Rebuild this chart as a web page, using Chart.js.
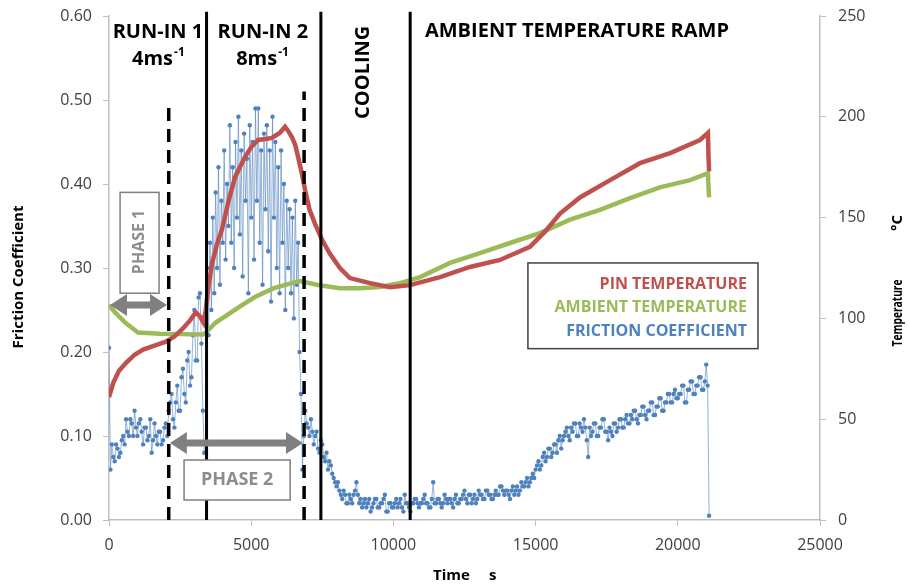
<!DOCTYPE html>
<html>
<head>
<script src="https://cdn.jsdelivr.net/npm/chart.js"></script>
<title>Friction and temperature</title>
<style>
  body { margin: 0; background: white; }
</style>
</head>
<body>
<canvas id="chart" width="909" height="585"></canvas>
<script>
// friction coefficient, logged every 50 s from t = 0 (one row = 1000 s)
const frictionStep = 50;
const frictionValue = [
  0.205, 0.06, 0.09, 0.075, 0.07, 0.09, 0.085, 0.075, 0.08, 0.095, 0.10, 0.09, 0.12, 0.105, 0.10, 0.12, 0.115, 0.10, 0.13, 0.11,
  0.10, 0.115, 0.12, 0.105, 0.09, 0.11, 0.11, 0.095, 0.10, 0.12, 0.08, 0.095, 0.115, 0.10, 0.09, 0.105, 0.105, 0.09, 0.095, 0.11,
  0.115, 0.10, 0.13, 0.14, 0.15, 0.12, 0.11, 0.14, 0.16, 0.13, 0.13, 0.17, 0.18, 0.15, 0.14, 0.19, 0.20, 0.16, 0.17, 0.22,
  0.25, 0.19, 0.19, 0.265, 0.27, 0.21, 0.13, 0.08, 0.08, 0.30, 0.22, 0.33, 0.25, 0.36, 0.27, 0.39, 0.30, 0.42, 0.28, 0.38,
  0.33, 0.44, 0.31, 0.40, 0.35, 0.47, 0.33, 0.42, 0.30, 0.45, 0.36, 0.48, 0.34, 0.44, 0.29, 0.46, 0.38, 0.43, 0.27, 0.47,
  0.36, 0.45, 0.31, 0.49, 0.38, 0.49, 0.33, 0.44, 0.28, 0.46, 0.37, 0.47, 0.32, 0.44, 0.26, 0.48, 0.36, 0.45, 0.30, 0.42,
  0.27, 0.44, 0.33, 0.40, 0.25, 0.38, 0.30, 0.37, 0.27, 0.36, 0.24, 0.38, 0.28, 0.33, 0.20, 0.15, 0.06, 0.10, 0.13, 0.115,
  0.11, 0.10, 0.12, 0.105, 0.09, 0.10, 0.105, 0.085, 0.08, 0.095, 0.09, 0.075, 0.07, 0.08, 0.06, 0.07, 0.065, 0.055, 0.05, 0.045,
  0.04, 0.045, 0.035, 0.03, 0.025, 0.035, 0.03, 0.02, 0.02, 0.03, 0.025, 0.02, 0.03, 0.035, 0.045, 0.03, 0.02, 0.025, 0.015, 0.02,
  0.025, 0.015, 0.02, 0.025, 0.01, 0.015, 0.02, 0.025, 0.025, 0.015, 0.015, 0.02, 0.02, 0.025, 0.03, 0.01, 0.01, 0.02, 0.02, 0.015,
  0.015, 0.02, 0.025, 0.015, 0.02, 0.025, 0.015, 0.01, 0.03, 0.02, 0.02, 0.015, 0.01, 0.02, 0.02, 0.025, 0.025, 0.02, 0.015, 0.02,
  0.02, 0.025, 0.03, 0.02, 0.02, 0.015, 0.015, 0.025, 0.045, 0.02, 0.02, 0.025, 0.025, 0.02, 0.015, 0.02, 0.03, 0.025, 0.02, 0.025,
  0.025, 0.02, 0.015, 0.025, 0.03, 0.02, 0.02, 0.025, 0.025, 0.03, 0.035, 0.025, 0.02, 0.03, 0.03, 0.02, 0.025, 0.03, 0.02, 0.025,
  0.035, 0.03, 0.03, 0.025, 0.025, 0.035, 0.035, 0.03, 0.03, 0.025, 0.025, 0.03, 0.035, 0.03, 0.03, 0.04, 0.04, 0.035, 0.03, 0.035,
  0.035, 0.03, 0.025, 0.035, 0.04, 0.03, 0.035, 0.04, 0.03, 0.035, 0.045, 0.04, 0.04, 0.045, 0.05, 0.04, 0.045, 0.05, 0.055, 0.05,
  0.06, 0.065, 0.07, 0.06, 0.065, 0.075, 0.08, 0.07, 0.075, 0.085, 0.085, 0.075, 0.08, 0.09, 0.09, 0.08, 0.095, 0.10, 0.085, 0.095,
  0.10, 0.105, 0.11, 0.10, 0.095, 0.11, 0.105, 0.115, 0.115, 0.10, 0.10, 0.115, 0.11, 0.105, 0.12, 0.11, 0.095, 0.075, 0.11, 0.10,
  0.105, 0.115, 0.115, 0.10, 0.10, 0.11, 0.11, 0.12, 0.12, 0.105, 0.105, 0.095, 0.11, 0.105, 0.10, 0.115, 0.115, 0.105, 0.11, 0.12,
  0.12, 0.11, 0.11, 0.12, 0.125, 0.115, 0.115, 0.125, 0.12, 0.13, 0.13, 0.12, 0.115, 0.125, 0.125, 0.135, 0.135, 0.125, 0.12, 0.13,
  0.13, 0.14, 0.14, 0.125, 0.125, 0.135, 0.135, 0.145, 0.145, 0.13, 0.13, 0.14, 0.14, 0.15, 0.15, 0.14, 0.14, 0.15, 0.155, 0.145,
  0.145, 0.15, 0.15, 0.16, 0.16, 0.14, 0.14, 0.155, 0.155, 0.165, 0.165, 0.15, 0.15, 0.16, 0.16, 0.17, 0.17, 0.155, 0.155, 0.165,
  0.185, 0.16, 0.005
];

// pin temperature, degC
const pinTime = [0, 150, 350, 600, 900, 1200, 1600, 2000, 2300, 2600, 2850, 3050, 3200, 3320, 3400, 3480, 3620, 3800, 3970, 4200,
  4430, 4600, 4780, 5000, 5240, 5500, 5730, 6000, 6190, 6300, 6430, 6550, 6650, 6780, 6890, 7050, 7240, 7490, 7770, 8120,
  8470, 9180, 9880, 10580, 11640, 12690, 13750, 14800, 15330, 15860, 16560, 17620, 18670, 19730, 20780, 21060, 21080, 21100];
const pinTemp = [61, 68, 74, 78, 82, 84.5, 86.5, 88.5, 91, 95, 99, 103, 101, 98, 104, 114, 127, 137, 144, 158,
  170, 175, 180, 185, 188.5, 189, 189.5, 192, 195, 193, 190, 186, 180, 172, 164, 154, 147, 139, 132, 125,
  120, 117.5, 115.5, 116.5, 120.5, 125.5, 129, 135.5, 143, 152, 160, 168.6, 177, 182, 188.5, 192, 180, 173];

// ambient temperature, degC
const ambientTime = [0, 210, 560, 1020, 1790, 2500, 3300, 3410, 3730, 4610, 5130, 5800, 6540, 6720, 7350, 8120, 8830, 9530,
  10230, 10940, 11990, 13040, 14100, 15150, 16210, 17260, 18320, 19370, 20430, 21060, 21080, 21100];
const ambientTemp = [106.6, 103, 98, 93, 92.4, 92.2, 92, 93, 97.7, 106, 110.6, 115, 118, 118.5, 116.6, 115, 115, 115.6,
  117.5, 120.5, 127.5, 132.4, 137.4, 142.3, 149, 153.8, 159.7, 165, 168.6, 172, 165, 160];

// test phase boundaries (s); top end in friction units
const phaseLineTimes = [2100, 3430, 6860, 7450, 10590];
const phaseLineTops = [0.495, 0.605, 0.51, 0.605, 0.605];
const phaseLineDashed = [true, false, true, false, false];

const legendLabels = ['PIN TEMPERATURE', 'AMBIENT TEMPERATURE', 'FRICTION COEFFICIENT'];
const RED = '#c0504d', GREEN = '#9bbb59', BLUE = '#4f81bd';
const legendColors = [RED, GREEN, BLUE];

const FONT = '"Open Sans", "Liberation Sans", sans-serif';

function toPoints(xs, ys) {
  return xs.map((x, i) => ({ x: x, y: ys[i] }));
}
const frictionPoints = frictionValue.map((v, i) => ({ x: i * frictionStep, y: v }));

const annotations = {
  id: 'annotations',
  afterDatasetsDraw(chart) {
    const c = chart.ctx;
    const xs = chart.scales.x, ys = chart.scales.y;
    const px = v => xs.getPixelForValue(v);
    const py = v => ys.getPixelForValue(v);
    c.save();

    // phase boundaries
    phaseLineTimes.forEach((t, i) => {
      c.beginPath();
      c.strokeStyle = '#000';
      c.lineWidth = phaseLineDashed[i] ? 3.5 : 3;
      c.setLineDash(phaseLineDashed[i] ? [13, 8] : []);
      c.moveTo(px(t), ys.bottom);
      c.lineTo(px(t), py(phaseLineTops[i]));
      c.stroke();
    });
    c.setLineDash([]);

    // section headings
    c.fillStyle = '#000';
    c.textBaseline = 'alphabetic';
    c.font = 'bold 20px ' + FONT;
    c.textAlign = 'center';
    c.fillText('RUN-IN 1', px(1720), py(0.574));
    c.fillText('RUN-IN 2', px(5410), py(0.574));
    c.textAlign = 'left';
    c.fillText('AMBIENT TEMPERATURE RAMP', px(11110), py(0.575));

    function speed(txt, t, f) {
      c.font = 'bold 20px ' + FONT;
      const w1 = c.measureText(txt).width;
      c.font = 'bold 12px ' + FONT;
      const w2 = c.measureText('-1').width;
      const x0 = px(t) - (w1 + w2) / 2;
      c.textAlign = 'left';
      c.font = 'bold 20px ' + FONT;
      c.fillText(txt, x0, py(f));
      c.font = 'bold 12px ' + FONT;
      c.fillText('-1', x0 + w1 + 1, py(f) - 9);
    }
    speed('4ms', 1720, 0.5417);
    speed('8ms', 5380, 0.5417);

    c.save();
    c.font = 'bold 20px ' + FONT;
    c.translate(px(8930), py(0.533));
    c.rotate(-Math.PI / 2);
    c.textAlign = 'center';
    c.textBaseline = 'middle';
    c.fillText('COOLING', 0, 0);
    c.restore();

    function box(t1, f1, t2, f2, color) {
      const x = px(t1), y = py(f1), w = px(t2) - x, h = py(f2) - y;
      c.fillStyle = '#fff';
      c.fillRect(x, y, w, h);
      c.strokeStyle = color;
      c.lineWidth = 1.5;
      c.strokeRect(x, y, w, h);
    }
    function dblArrow(t1, t2, f) {
      const x1 = px(t1), x2 = px(t2), y = py(f);
      const h = 3.5, H = 11, L = 17;
      c.fillStyle = '#808080';
      c.beginPath();
      c.moveTo(x1, y);
      c.lineTo(x1 + L, y - H); c.lineTo(x1 + L, y - h);
      c.lineTo(x2 - L, y - h); c.lineTo(x2 - L, y - H);
      c.lineTo(x2, y);
      c.lineTo(x2 - L, y + H); c.lineTo(x2 - L, y + h);
      c.lineTo(x1 + L, y + h); c.lineTo(x1 + L, y + H);
      c.closePath();
      c.fill();
    }

    // phase 1
    box(390, 0.39, 1760, 0.27, '#7f7f7f');
    c.save();
    c.fillStyle = '#8c8c8c';
    c.font = 'bold 16px ' + FONT;
    c.translate(px(1075), py(0.331));
    c.rotate(-Math.PI / 2);
    c.textAlign = 'center';
    c.textBaseline = 'middle';
    c.fillText('PHASE 1', 0, 0);
    c.restore();
    dblArrow(35, 2040, 0.256);

    // phase 2
    dblArrow(2140, 6820, 0.0917);
    box(2640, 0.0714, 6370, 0.0238, '#7f7f7f');
    c.fillStyle = '#8c8c8c';
    c.font = 'bold 18px ' + FONT;
    c.textAlign = 'center';
    c.textBaseline = 'middle';
    c.fillText('PHASE 2', px(4505), py(0.0476));

    // legend
    box(14730, 0.306, 22820, 0.204, '#404040');
    c.font = 'bold 16px ' + FONT;
    c.textAlign = 'right';
    c.textBaseline = 'alphabetic';
    [0.275, 0.2476, 0.219].forEach((f, i) => {
      c.fillStyle = legendColors[i];
      c.fillText(legendLabels[i], px(22430), py(f));
    });

    // axis titles
    c.fillStyle = '#000';
    c.font = 'bold 15px ' + FONT;
    c.save();
    c.translate(19, 277);
    c.rotate(-Math.PI / 2);
    c.textAlign = 'center';
    c.textBaseline = 'middle';
    c.fillText('Friction Coefficient', 0, 0);
    c.restore();

    c.textAlign = 'left';
    c.textBaseline = 'alphabetic';
    c.fillText('Time', 433, 580);
    c.fillText('s', 489, 580);

    c.save();
    c.translate(898, 313);
    c.rotate(-Math.PI / 2);
    c.textAlign = 'center';
    c.textBaseline = 'middle';
    c.font = 'bold 15px ' + FONT;
    c.save();
    c.scale(0.68, 1);
    c.fillText('Temperature', 0, 0);
    c.restore();
    c.fillText('\u00b0C', 90, 0);
    c.restore();

    c.restore();
  }
};

const tickFont = { family: FONT, size: 16 };
const axisGrid = { drawOnChartArea: false, tickLength: 6, color: '#bfbfbf' };

function fitVertical(width) {
  return s => {
    s.width = width;
    s.paddingTop = 0;
    s.paddingBottom = 0;
  };
}

new Chart(document.getElementById('chart'), {
  type: 'scatter',
  data: {
    datasets: [
      {
        label: legendLabels[0],
        data: toPoints(pinTime, pinTemp),
        yAxisID: 'y2',
        showLine: true,
        borderColor: RED,
        borderWidth: 4.5,
        pointRadius: 0,
        order: 0
      },
      {
        label: legendLabels[1],
        data: toPoints(ambientTime, ambientTemp),
        yAxisID: 'y2',
        showLine: true,
        borderColor: GREEN,
        borderWidth: 4.5,
        pointRadius: 0,
        order: 1
      },
      {
        label: legendLabels[2],
        data: frictionPoints,
        yAxisID: 'y',
        showLine: true,
        borderColor: 'rgba(79, 129, 189, 0.6)',
        borderWidth: 1,
        pointRadius: 2.2,
        pointBackgroundColor: BLUE,
        pointBorderWidth: 0,
        order: 2
      }
    ]
  },
  options: {
    responsive: false,
    animation: false,
    layout: { padding: { top: 16, left: 0, right: 0, bottom: 0 } },
    plugins: { legend: { display: false }, tooltip: { enabled: false } },
    scales: {
      x: {
        type: 'linear',
        min: 0,
        max: 25000,
        ticks: { stepSize: 5000, callback: v => v, font: tickFont, color: '#404040', padding: 10, maxRotation: 0 },
        grid: axisGrid,
        border: { color: '#bfbfbf', width: 1.5 },
        afterFit: s => { s.height = 65; }
      },
      y: {
        position: 'left',
        min: 0,
        max: 0.6,
        ticks: { stepSize: 0.1, callback: v => v.toFixed(2), font: tickFont, color: '#404040', padding: 11 },
        grid: axisGrid,
        border: { color: '#bfbfbf', width: 1.5 },
        afterFit: fitVertical(109)
      },
      y2: {
        position: 'right',
        min: 0,
        max: 250,
        ticks: { stepSize: 50, font: tickFont, color: '#404040', padding: 12 },
        grid: axisGrid,
        border: { color: '#bfbfbf', width: 1.5 },
        afterFit: fitVertical(89)
      }
    }
  },
  plugins: [annotations]
});
</script>
</body>
</html>
